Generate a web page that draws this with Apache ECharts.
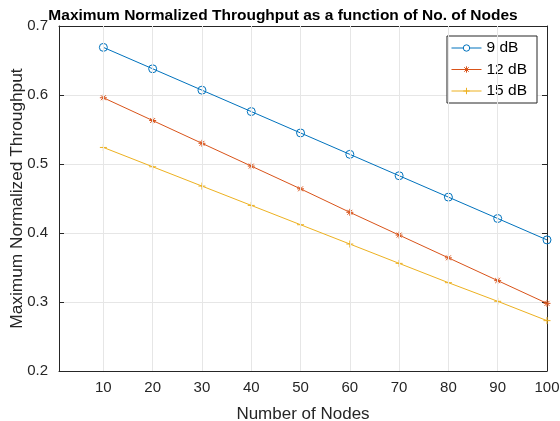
<!DOCTYPE html>
<html>
<head>
<meta charset="utf-8">
<script src="https://cdn.jsdelivr.net/npm/echarts@6/dist/echarts.min.js"></script>
<style>html,body{margin:0;padding:0;background:#fff;}#chart{width:560px;height:421px;}</style>
</head>
<body>
<div id="chart"></div>
<script>
// Number of nodes on the x axis
const nodes = [10, 20, 30, 40, 50, 60, 70, 80, 90, 100];
// Maximum normalized throughput for each SNR
const thr9dB  = [0.669, 0.638, 0.607, 0.576, 0.545, 0.514, 0.483, 0.452, 0.421, 0.390];
const thr12dB = [0.596, 0.563, 0.530, 0.497, 0.464, 0.430, 0.397, 0.364, 0.331, 0.298];
const thr15dB = [0.524, 0.496, 0.468, 0.440, 0.412, 0.384, 0.356, 0.328, 0.301, 0.273];
const seriesNames = ['9 dB', '12 dB', '15 dB'];
const xTicks = [10, 20, 30, 40, 50, 60, 70, 80, 90, 100];

const FONT = 'Liberation Sans, Arial, sans-serif';
const axisCol = '#262626';
const gridCol = '#e6e6e6';
const plusPath = 'path://M5,0L5,10M0,5L10,5';
const starPath = 'path://M5,0L5,10M0,5L10,5M1.5,1.5L8.5,8.5M8.5,1.5L1.5,8.5';

const chart = echarts.init(document.getElementById('chart'));

function mkSeries(name, vals, color, symbol, size) {
  return {
    name: name,
    type: 'line',
    data: nodes.map((n, i) => [n, vals[i]]),
    symbol: symbol,
    symbolSize: size,
    showAllSymbol: true,
    lineStyle: { color: color, width: 1 },
    itemStyle: { color: 'none', borderColor: color, borderWidth: 1 },
    emphasis: { disabled: true },
    animation: false
  };
}

const xBase = {
  type: 'value', min: 1, max: 100,
  axisLine: { show: true, lineStyle: { color: axisCol, width: 1 } },
  splitLine: { show: false }
};
const yBase = {
  type: 'value', min: 0.2, max: 0.7, interval: 0.1,
  axisLine: { show: true, lineStyle: { color: axisCol, width: 1 } },
  axisTick: { inside: true, length: 5, lineStyle: { color: axisCol } }
};

chart.setOption({
  backgroundColor: '#fff',
  animation: false,
  title: {
    text: 'Maximum Normalized Throughput as a function of No. of Nodes',
    left: 278, top: 3, textAlign: 'center',
    textStyle: { fontFamily: FONT, fontSize: 15.5, fontWeight: 'bold', color: '#000' }
  },
  legend: {
    orient: 'vertical',
    right: 23, top: 36,
    data: seriesNames,
    backgroundColor: '#fff',
    borderColor: '#262626', borderWidth: 1, borderRadius: 0,
    padding: [3, 10, 3, 4],
    itemGap: 3.5,
    itemWidth: 30, itemHeight: 8,
    itemStyle: { color: '#fff', borderWidth: 1 },
    lineStyle: { width: 1 },
    textStyle: { fontFamily: FONT, fontSize: 15.5, lineHeight: 18, color: '#000' }
  },
  grid: { left: 59, right: 13, top: 26, bottom: 50, containLabel: false, outerBoundsMode: 'none' },
  xAxis: [
    Object.assign({}, xBase, {
      position: 'bottom',
      name: 'Number of Nodes', nameLocation: 'middle', nameGap: 35,
      nameTextStyle: { fontFamily: FONT, fontSize: 17, color: axisCol },
      axisTick: { inside: true, length: 5, customValues: xTicks, lineStyle: { color: axisCol } },
      axisLabel: { customValues: xTicks, fontFamily: FONT, fontSize: 15, color: axisCol, margin: 9 }
    }),
    Object.assign({}, xBase, {
      position: 'top',
      axisTick: { inside: true, length: 5, customValues: xTicks, lineStyle: { color: axisCol } },
      axisLabel: { show: false }
    })
  ],
  yAxis: [
    Object.assign({}, yBase, {
      position: 'left',
      name: 'Maximum Normalized Throughput', nameLocation: 'middle', nameGap: 42,
      nameMoveOverlap: false,
      nameTextStyle: { fontFamily: FONT, fontSize: 17.3, color: axisCol, verticalAlign: 'middle' },
      axisLabel: { fontFamily: FONT, fontSize: 15, color: axisCol, margin: 11,
        formatter: v => String(Math.round(v * 10) / 10) },
      splitLine: { show: true, lineStyle: { color: gridCol, width: 1 } }
    }),
    Object.assign({}, yBase, {
      position: 'right',
      axisLabel: { show: false },
      splitLine: { show: false }
    })
  ],
  series: [
    mkSeries(seriesNames[0], thr9dB, '#0072BD', 'circle', 8),
    mkSeries(seriesNames[1], thr12dB, '#D95319', starPath, 7),
    mkSeries(seriesNames[2], thr15dB, '#EDB120', plusPath, 7),
    // vertical grid lines at the x tick positions
    {
      type: 'line', xAxisIndex: 0, yAxisIndex: 0, data: [], silent: true,
      markLine: {
        silent: true, symbol: 'none', label: { show: false },
        lineStyle: { color: gridCol, width: 1, type: 'solid' },
        data: xTicks.slice(0, -1).map(v => ({ xAxis: v }))
      },
      z: 1
    }
  ]
});
</script>
</body>
</html>
